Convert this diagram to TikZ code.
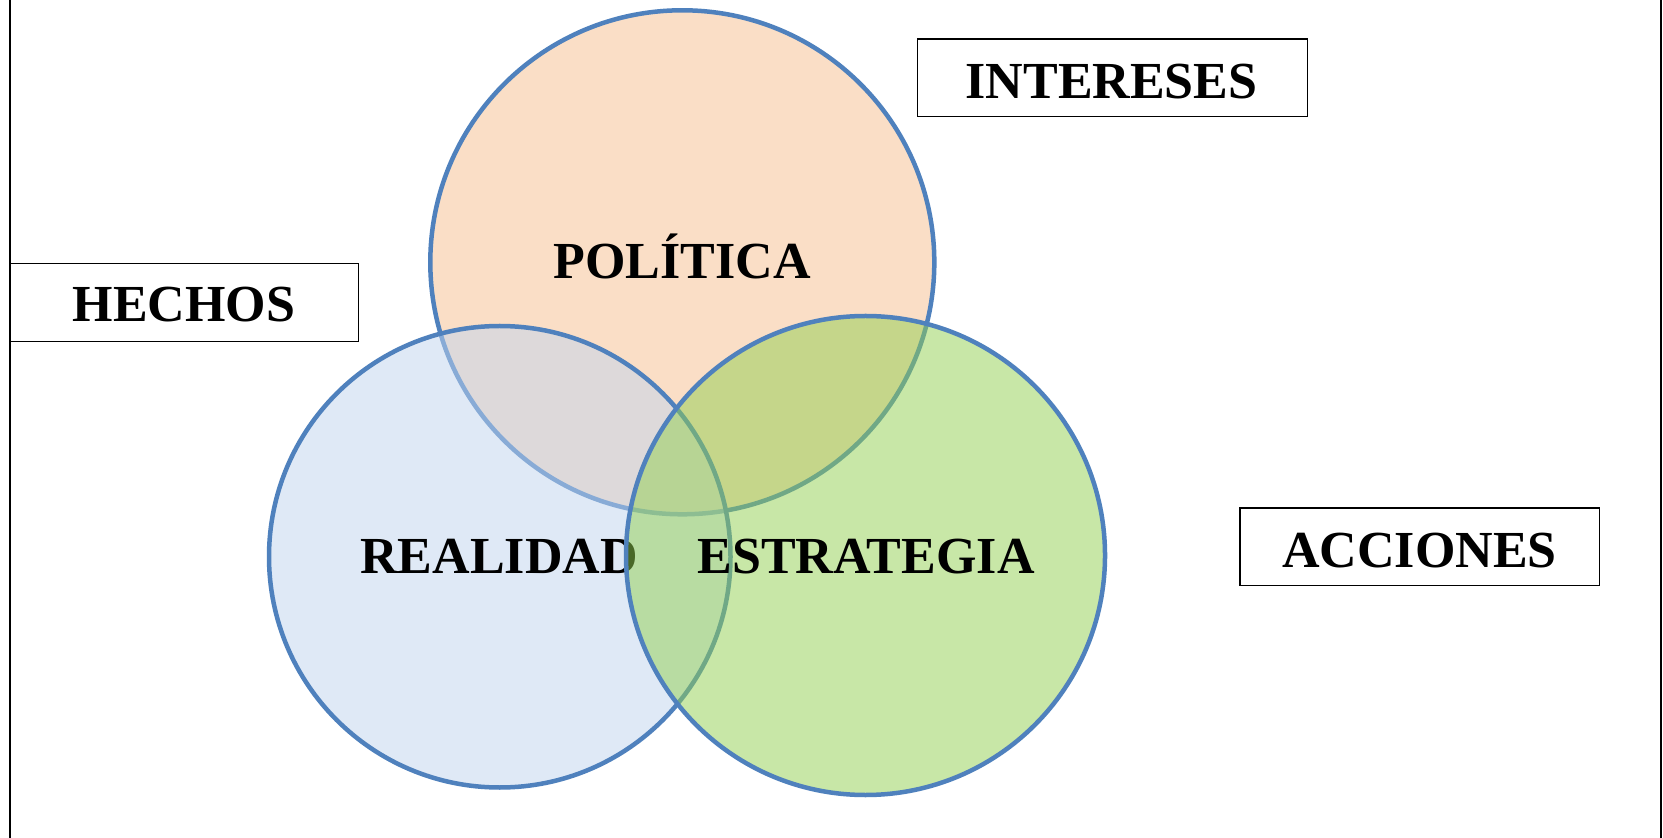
\documentclass[tikz,border=0pt]{standalone}
\usepackage{fontspec}
\setmainfont{Liberation Serif}
\definecolor{rimblue}{RGB}{79,129,189}
\definecolor{polfill}{RGB}{246,190,142}
\definecolor{realfill}{RGB}{193,213,239}
\definecolor{estfill}{RGB}{146,208,80}
\tikzset{
  venn/.style={circle, draw=rimblue, line width=2.25pt, fill opacity=0.5, inner sep=0pt},
  tagbox/.style={rectangle, draw=black, line width=0.75pt, fill=white, inner sep=0pt},
  lbl/.style={anchor=base, inner sep=0pt, font=\fontsize{26}{30}\selectfont\bfseries},
  frameline/.style={draw=black, line width=0.8pt}
}
\begin{document}
\begin{tikzpicture}[x=0.5pt, y=-0.5pt]
\useasboundingbox (0,0) rectangle (1663,838);
\fill[white] (0,0) rectangle (1663,838);
% frame
\coordinate (ftl) at (10,0);
\coordinate (fbl) at (10,838);
\coordinate (ftr) at (1661,0);
\coordinate (fbr) at (1661,838);
\draw[frameline] (ftl) -- (fbl);
\draw[frameline] (ftr) -- (fbr);
% circles and their labels
\node[venn, fill=polfill, minimum size=252pt] (pol) at (682.3,262.3) {};
\node[lbl] (poll) at (682.3,279) {POLÍTICA};
\node[venn, fill=realfill, minimum size=230.75pt] (real) at (499.75,556.75) {};
\node[lbl] (reall) at (499.0,573.8) {REALIDAD};
\node[venn, fill=estfill, minimum size=239.5pt] (est) at (865.5,555.5) {};
\node[lbl] (estl) at (866.0,573.8) {ESTRATEGIA};
% boxes
\node[tagbox, minimum width=174.15pt, minimum height=39pt] (hechos) at (184.2,302.5) {};
\node[lbl] (hechosl) at (184.0,321.4) {HECHOS};
\node[tagbox, minimum width=195.15pt, minimum height=38.75pt] (intereses) at (1112.5,78) {};
\node[lbl] (interesesl) at (1111.5,98.6) {INTERESES};
\node[tagbox, minimum width=179.8pt, minimum height=38.75pt] (acciones) at (1419.6,546.75) {};
\node[lbl] (accionesl) at (1419.5,567.4) {ACCIONES};
\end{tikzpicture}
\end{document}
